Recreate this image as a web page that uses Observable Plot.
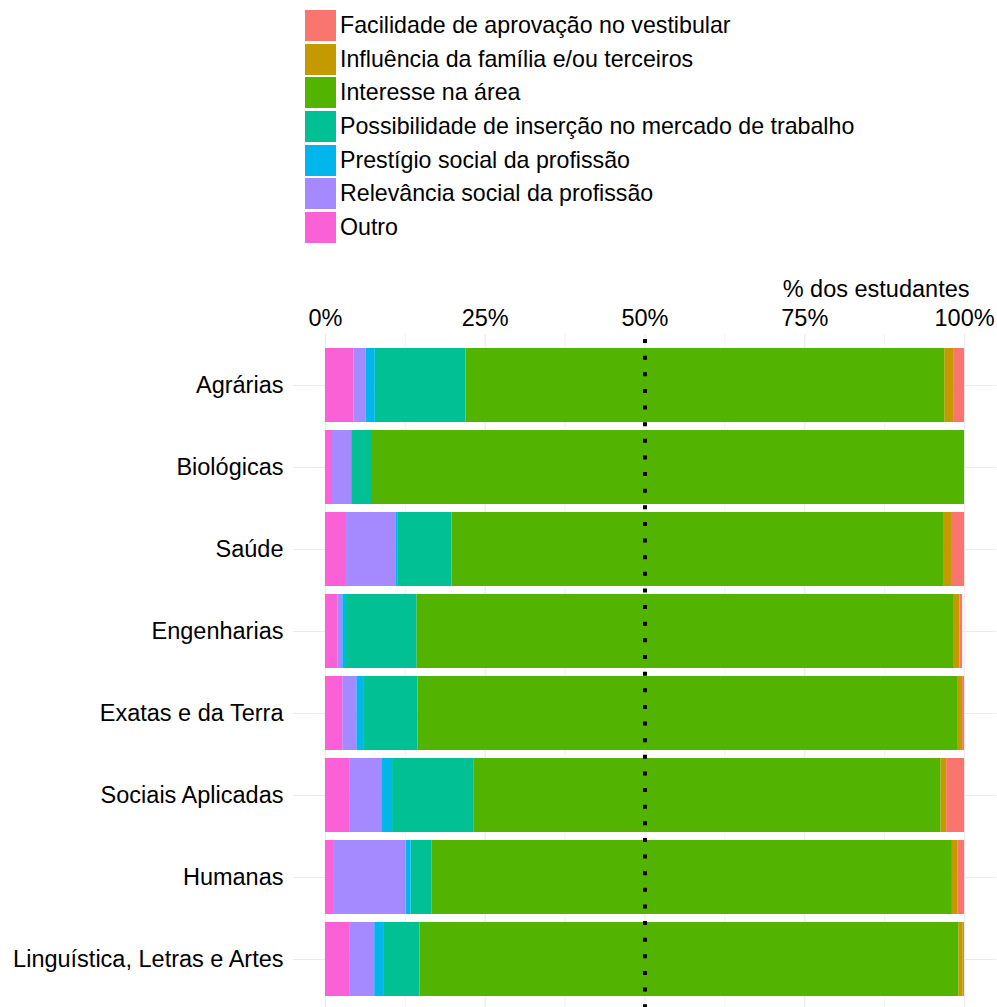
<!DOCTYPE html>
<html>
<head>
<meta charset="utf-8">
<script src="https://cdn.jsdelivr.net/npm/d3@7"></script>
<script src="https://cdn.jsdelivr.net/npm/@observablehq/plot@0.6"></script>
<style>
  body { margin: 0; width: 997px; height: 1007px; overflow: hidden; background: #fff;
         font-family: "Liberation Sans", Arial, Helvetica, sans-serif; color: #000; }
  #legend { position: relative; height: 255px; }
  .sw { position: absolute; left: 305px; width: 31px; height: 31px; }
  .lb { position: absolute; left: 340px; font-size: 23.2px; line-height: 31px; white-space: nowrap; }
  #chart svg { display: block; }
</style>
</head>
<body>
<div id="legend"></div>
<div id="chart"></div>
<script>
// ---- data ----
const categories = ["Agrárias", "Biológicas", "Saúde", "Engenharias", "Exatas e da Terra",
  "Sociais Aplicadas", "Humanas", "Linguística, Letras e Artes"];
const reasons = ["Facilidade de aprovação no vestibular", "Influência da família e/ou terceiros",
  "Interesse na área", "Possibilidade de inserção no mercado de trabalho",
  "Prestígio social da profissão", "Relevância social da profissão", "Outro"];
const colors = ["#F8766D", "#C49A00", "#53B400", "#00C094", "#00B6EB", "#A58AFF", "#FB61D7"];

const facilidade    = [1.6, 0.0, 1.9, 0.4, 0.3, 2.8, 1.0, 0.2];
const influencia    = [1.5, 0.0, 1.4, 0.9, 0.8, 0.9, 0.9, 0.7];
const interesse     = [74.9, 92.8, 76.9, 84.1, 84.4, 73.1, 81.4, 84.3];
const possibilidade = [14.2, 3.1, 8.5, 11.0, 8.4, 12.7, 3.3, 5.7];
const prestigio     = [1.4, 0.0, 0.3, 0.6, 1.2, 1.7, 0.8, 1.4];
const relevancia    = [1.9, 3.0, 7.7, 0.7, 2.2, 4.9, 11.2, 3.8];
const outro         = [4.5, 1.1, 3.3, 2.0, 2.7, 3.9, 1.4, 3.9];

const xTicks = [0, 25, 50, 75, 100];
const xMinorTicks = [12.5, 37.5, 62.5, 87.5];
const refLine = [50];
const xTitle = "% dos estudantes";

// ---- table ----
const seriesValues = [facilidade, influencia, interesse, possibilidade, prestigio, relevancia, outro];
const rows = [];
categories.forEach((c, i) => {
  reasons.forEach((r, j) => rows.push({cat: c, reason: r, value: seriesValues[j][i]}));
});
const stackOrder = reasons.slice().reverse();

// ---- legend ----
const leg = document.getElementById("legend");
reasons.forEach((r, j) => {
  const top = 10 + j * 33.67;
  const s = document.createElement("div");
  s.className = "sw"; s.style.top = top + "px"; s.style.background = colors[j];
  leg.appendChild(s);
  const t = document.createElement("div");
  t.className = "lb"; t.style.top = top + "px"; t.textContent = r;
  leg.appendChild(t);
});

// ---- chart ----
const chart = Plot.plot({
  width: 997,
  height: 755,
  marginTop: 79,
  marginBottom: 0,
  marginLeft: 293,
  marginRight: 1,
  style: {fontFamily: '"Liberation Sans", Arial, Helvetica, sans-serif', color: "#000", background: "#fff", overflow: "visible"},
  x: {domain: [-5, 105]},
  y: {domain: categories, paddingInner: 0.1, paddingOuter: 0.15, align: 0.5},
  color: {domain: reasons, range: colors},
  marks: [
    Plot.gridX({ticks: xMinorTicks, stroke: "#ebebeb", strokeOpacity: 1, strokeWidth: 0.6}),
    Plot.gridX({ticks: xTicks, stroke: "#ebebeb", strokeOpacity: 1, strokeWidth: 1.2}),
    Plot.gridY({stroke: "#ebebeb", strokeOpacity: 1, strokeWidth: 1.2}),
    Plot.barX(rows, Plot.stackX({x: "value", y: "cat", fill: "reason", order: stackOrder})),
    Plot.ruleX(refLine, {stroke: "#000", strokeWidth: 4, strokeDasharray: "4,12.63", strokeDashoffset: 11.6}),
    Plot.axisX({anchor: "top", ticks: xTicks, tickFormat: d => d + "%", tickSize: 0, tickPadding: 9, fontSize: 23.5, label: null}),
    Plot.axisY({tickSize: 0, tickPadding: 10, fontSize: 23.5, label: null}),
    Plot.text([xTitle], {frameAnchor: "top-right", dx: -27, dy: -45, fontSize: 23.5, textAnchor: "end", lineAnchor: "middle"})
  ]
});
document.getElementById("chart").appendChild(chart);
</script>
</body>
</html>
